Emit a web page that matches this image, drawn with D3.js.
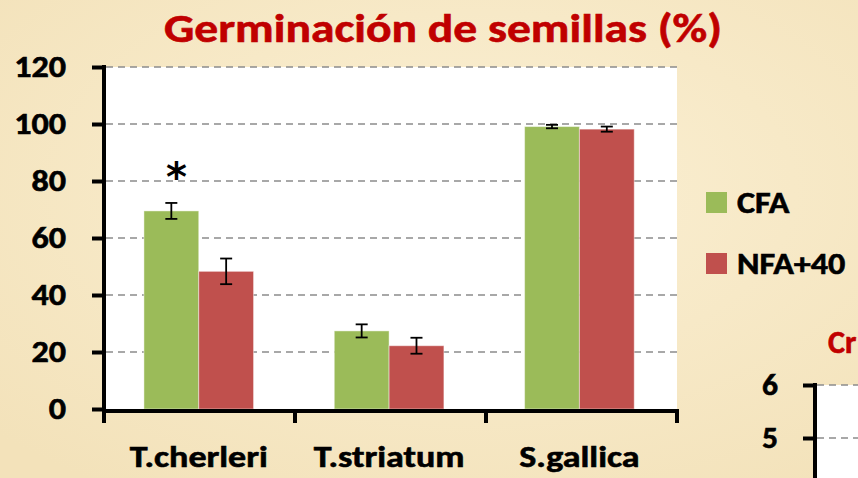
<!DOCTYPE html>
<html>
<head>
<meta charset="utf-8">
<script src="https://cdn.jsdelivr.net/npm/d3@7"></script>
<style>
  html, body { margin: 0; padding: 0; }
  body { width: 858px; height: 478px; overflow: hidden; }
  svg { display: block; }
</style>
</head>
<body>
<svg></svg>
<script>
  // data
  const species = ['T.cherleri', 'T.striatum', 'S.gallica'];
  const seriesNames = ['CFA', 'NFA+40'];
  const cfaValues = [69.5, 27.4, 99.1];
  const cfaErrors = [2.8, 2.3, 0.6];
  const nfaValues = [48.3, 22.2, 98.2];
  const nfaErrors = [4.5, 2.8, 0.9];
  const yTicks = [0, 20, 40, 60, 80, 100, 120];
  const marked = ['T.cherleri'];       // significant difference (*)
  const sideTicks = [5, 6];            // second chart, cut off at right edge

  const width = 858;
  const height = 478;
  const font = 'Carlito, Lato, "Open Sans", sans-serif';
  const colors = { 'CFA': '#9bbb59', 'NFA+40': '#c0504d' };

  // the slide text is a bit wider than the font, stretch glyphs sideways
  function stretch(sel, k) {
    sel.each(function () {
      const w = this.getComputedTextLength();
      d3.select(this).attr('textLength', w * k).attr('lengthAdjust', 'spacingAndGlyphs');
    });
  }
  // slide text is heavier, thicken it a little
  const heavy = (sel, c) => sel.attr('stroke', c).attr('stroke-width', 0.6);

  const svg = d3.select('svg').attr('width', width).attr('height', height);

  // parchment background
  const defs = svg.append('defs');
  const grad = defs.append('radialGradient').attr('id', 'paper')
    .attr('cx', '55%').attr('cy', '40%').attr('r', '75%');
  grad.append('stop').attr('offset', '0%').attr('stop-color', '#fbf0d4');
  grad.append('stop').attr('offset', '100%').attr('stop-color', '#f3e2ba');
  svg.append('rect').attr('width', width).attr('height', height).attr('fill', 'url(#paper)');

  const plot = { left: 106, right: 677, top: 67, bottom: 409 };

  const x = d3.scaleBand().domain(species).range([plot.left, plot.right])
    .paddingInner(0.424).paddingOuter(0.212).align(0.47);
  const xSeries = d3.scaleBand().domain(seriesNames).range([0, x.bandwidth()]);
  const y = d3.scaleLinear().domain([0, 120]).range([plot.bottom, plot.top]);

  const rows = species.map((s, i) => ({
    species: s,
    bars: [
      { series: 'CFA', value: cfaValues[i], err: cfaErrors[i] },
      { series: 'NFA+40', value: nfaValues[i], err: nfaErrors[i] }
    ]
  }));

  // white plot area
  svg.append('rect')
    .attr('x', plot.left).attr('y', plot.top)
    .attr('width', plot.right - plot.left).attr('height', plot.bottom - plot.top)
    .attr('fill', '#fff');

  // dashed gridlines
  svg.append('g')
    .selectAll('line')
    .data(yTicks.filter(d => d > 0))
    .join('line')
      .attr('x1', plot.left).attr('x2', plot.right)
      .attr('y1', d => y(d)).attr('y2', d => y(d))
      .attr('stroke', '#8c8c8c').attr('stroke-width', 1.5)
      .attr('stroke-dasharray', '7,5');

  // bars
  const groups = svg.append('g')
    .selectAll('g')
    .data(rows)
    .join('g')
      .attr('transform', d => `translate(${x(d.species)},0)`);

  groups.selectAll('rect')
    .data(d => d.bars)
    .join('rect')
      .attr('x', d => xSeries(d.series))
      .attr('y', d => y(d.value))
      .attr('width', xSeries.bandwidth())
      .attr('height', d => y(0) - y(d.value))
      .attr('fill', d => colors[d.series])
      .attr('stroke', 'rgba(255,255,255,0.45)')
      .attr('stroke-width', 1);

  // error bars
  const errs = groups.selectAll('g.err')
    .data(d => d.bars)
    .join('g')
      .attr('class', 'err')
      .attr('transform', d => `translate(${xSeries(d.series) + xSeries.bandwidth() / 2},0)`);
  errs.append('line')
    .attr('y1', d => y(d.value + d.err)).attr('y2', d => y(d.value - d.err))
    .attr('stroke', '#000').attr('stroke-width', 1.8);
  errs.selectAll('line.cap')
    .data(d => [d.value + d.err, d.value - d.err])
    .join('line')
      .attr('class', 'cap')
      .attr('x1', -6).attr('x2', 6)
      .attr('y1', d => y(d)).attr('y2', d => y(d))
      .attr('stroke', '#000').attr('stroke-width', 1.8);

  // asterisk
  svg.append('g')
    .selectAll('text')
    .data(rows.filter(d => marked.includes(d.species)))
    .join('text')
      .attr('x', d => x(d.species) + xSeries('CFA') + xSeries.bandwidth() / 2 + 5)
      .attr('y', d => y(d.bars[0].value + d.bars[0].err) - 12)
      .attr('text-anchor', 'middle')
      .attr('font-family', '"DejaVu Sans", sans-serif')
      .attr('font-weight', 'bold')
      .attr('font-size', 40)
      .text('*');

  // y axis
  const yAxis = svg.append('g')
    .attr('transform', `translate(${plot.left - 2},0)`)
    .call(d3.axisLeft(y).tickValues(yTicks).tickSize(12).tickPadding(26));
  yAxis.select('.domain').attr('stroke-width', 4)
    .attr('d', `M0,${plot.top - 2}V${plot.bottom + 4}`);
  yAxis.selectAll('.tick line').attr('stroke-width', 4);
  yAxis.selectAll('.tick text')
    .attr('font-family', font).attr('font-weight', 'bold').attr('font-size', 31).attr('fill', '#000')
    .call(heavy, '#000')
    .call(stretch, 1.1);

  // x axis, ticks at category boundaries
  const xAxisG = svg.append('g').attr('transform', `translate(0,${plot.bottom + 2})`);
  xAxisG.append('line')
    .attr('x1', plot.left - 4).attr('x2', plot.right + 2)
    .attr('stroke', '#000').attr('stroke-width', 4);
  const bx = d3.scaleLinear().domain([0, species.length]).range([plot.left - 2, plot.right]);
  xAxisG.selectAll('line.b')
    .data(d3.range(species.length + 1))
    .join('line')
      .attr('class', 'b')
      .attr('x1', d => bx(d)).attr('x2', d => bx(d))
      .attr('y1', 0).attr('y2', 12)
      .attr('stroke', '#000').attr('stroke-width', 4);
  xAxisG.selectAll('text')
    .data(species)
    .join('text')
      .attr('x', d => x(d) + x.bandwidth() / 2)
      .attr('y', 56)
      .attr('text-anchor', 'middle')
      .attr('font-family', font).attr('font-weight', 'bold').attr('font-size', 31)
      .text(d => d)
      .call(heavy, '#000')
      .call(stretch, 1.16);

  // title, fitted to the width it has in the picture
  svg.append('text')
    .attr('x', 443).attr('y', 42)
    .attr('text-anchor', 'middle')
    .attr('font-family', font).attr('font-weight', 'bold').attr('font-size', 41)
    .attr('fill', '#c00000')
    .attr('textLength', 558).attr('lengthAdjust', 'spacingAndGlyphs')
    .call(heavy, '#c00000')
    .text('Germinación de semillas (%)');

  // legend
  const legend = svg.append('g')
    .selectAll('g')
    .data(seriesNames)
    .join('g')
      .attr('transform', (d, i) => `translate(706,${192 + i * 61})`);
  legend.append('rect')
    .attr('width', 21).attr('height', 21)
    .attr('fill', d => colors[d]);
  legend.append('text')
    .attr('x', 31).attr('y', 21)
    .attr('font-family', font).attr('font-weight', 'bold').attr('font-size', 31)
    .text(d => d)
    .call(heavy, '#000')
    .call(stretch, 1.1);

  // second chart peeking in at the bottom right
  const y2 = d3.scaleLinear().domain([5, 6]).range([438, 385]);
  svg.append('rect')
    .attr('x', 817).attr('y', y2(6))
    .attr('width', width - 817).attr('height', height - y2(6))
    .attr('fill', '#fff');
  svg.append('g')
    .selectAll('line')
    .data(sideTicks)
    .join('line')
      .attr('x1', 817).attr('x2', width)
      .attr('y1', d => y2(d)).attr('y2', d => y2(d))
      .attr('stroke', '#8c8c8c').attr('stroke-width', 1.5)
      .attr('stroke-dasharray', '7,5');
  const y2Axis = svg.append('g')
    .attr('transform', 'translate(815,0)')
    .call(d3.axisLeft(y2).tickValues(sideTicks).tickFormat(d3.format('d')).tickSize(12).tickPadding(25));
  y2Axis.select('.domain').attr('stroke-width', 4).attr('d', `M0,${y2(6) - 2}V${height}`);
  y2Axis.selectAll('.tick line').attr('stroke-width', 4);
  y2Axis.selectAll('.tick text')
    .attr('font-family', font).attr('font-weight', 'bold').attr('font-size', 30).attr('fill', '#000')
    .call(heavy, '#000')
    .call(stretch, 1.05);
  svg.append('text')
    .attr('x', 828).attr('y', 353)
    .attr('font-family', font).attr('font-weight', 'bold').attr('font-size', 32)
    .attr('fill', '#c00000')
    .call(heavy, '#c00000')
    .text('Cr');
</script>
</body>
</html>
